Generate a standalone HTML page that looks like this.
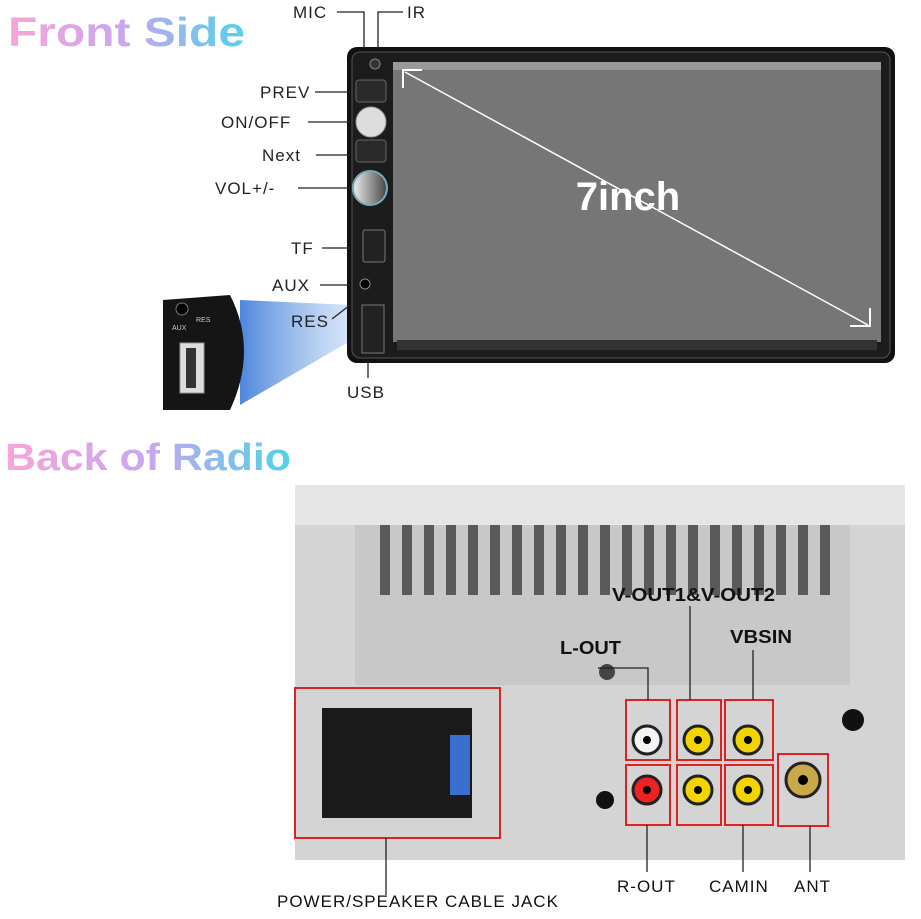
<!DOCTYPE html>
<html><head><meta charset="utf-8"><style>
html,body{margin:0;padding:0;background:#fff;}
svg text{font-family:"Liberation Sans",sans-serif;}
</style></head><body>
<svg width="921" height="914" viewBox="0 0 921 914" xmlns="http://www.w3.org/2000/svg">
<defs>
<linearGradient id="g1" x1="0" x2="1"><stop offset="0" stop-color="#f7a6d8"/><stop offset="0.5" stop-color="#c9a6f0"/><stop offset="1" stop-color="#4fd3e8"/></linearGradient>
<linearGradient id="cone" x1="0" x2="1"><stop offset="0" stop-color="#3a78d8" stop-opacity="0.9"/><stop offset="1" stop-color="#9cc0ee" stop-opacity="0.4"/></linearGradient>
<linearGradient id="knob"><stop offset="0" stop-color="#eee"/><stop offset="1" stop-color="#444"/></linearGradient>
</defs>
<text x="8" y="46" font-size="41" font-weight="bold" fill="url(#g1)" textLength="237" lengthAdjust="spacingAndGlyphs">Front Side</text>
<text x="5" y="470" font-size="38" font-weight="bold" fill="url(#g1)" textLength="286" lengthAdjust="spacingAndGlyphs">Back of Radio</text>

<!-- inset -->
<polygon points="240,300 352,305 352,340 240,405" fill="url(#cone)"/>
<path d="M163,300 L230,295 Q258,350 230,410 L163,410 Z" fill="#151515"/>
<circle cx="182" cy="309" r="6" fill="#000" stroke="#777"/>
<text x="172" y="330" font-size="7" fill="#ccc">AUX</text><text x="196" y="322" font-size="7" fill="#ccc">RES</text>
<rect x="180" y="343" width="24" height="50" fill="#ddd" stroke="#999"/>
<rect x="186" y="348" width="10" height="40" fill="#333"/>

<!-- front unit -->
<rect x="347" y="47" width="548" height="316" rx="10" fill="#111"/>
<rect x="352" y="52" width="538" height="306" rx="8" fill="#1c1c1c" stroke="#555"/>
<rect x="393" y="62" width="488" height="280" fill="#767676"/>
<rect x="393" y="62" width="488" height="8" fill="#999"/>
<rect x="397" y="340" width="480" height="10" fill="#333"/>
<line x1="405" y1="72" x2="868" y2="325" stroke="#fff" stroke-width="1.5"/>
<polyline points="403,88 403,70 422,70" fill="none" stroke="#fff" stroke-width="2"/>
<polyline points="850,326 870,326 870,308" fill="none" stroke="#fff" stroke-width="2"/>
<text x="628" y="210" font-size="40" font-weight="bold" fill="#fff" text-anchor="middle">7inch</text>
<circle cx="375" cy="64" r="5" fill="#333" stroke="#888"/>
<rect x="356" y="80" width="30" height="22" rx="3" fill="#2a2a2a" stroke="#666"/>
<circle cx="371" cy="122" r="15" fill="#ddd" stroke="#999"/>
<rect x="356" y="140" width="30" height="22" rx="3" fill="#2a2a2a" stroke="#666"/>
<circle cx="370" cy="188" r="17" fill="url(#knob)" stroke="#7ab" stroke-width="2"/>
<rect x="363" y="230" width="22" height="32" rx="2" fill="#222" stroke="#777"/>
<circle cx="365" cy="284" r="5" fill="#000" stroke="#888"/>
<rect x="362" y="305" width="22" height="48" fill="#222" stroke="#777"/>
<g font-size="17" fill="#222" letter-spacing="1">
<text x="293" y="18">MIC</text><text x="407" y="18">IR</text>
<text x="260" y="98">PREV</text><text x="221" y="128">ON/OFF</text>
<text x="262" y="161">Next</text><text x="215" y="194">VOL+/-</text>
<text x="291" y="254">TF</text><text x="272" y="291">AUX</text>
<text x="291" y="327">RES</text><text x="347" y="398">USB</text>
</g>
<g stroke="#222" stroke-width="1.3" fill="none">
<polyline points="337,12 364,12 364,48"/><polyline points="403,12 378,12 378,48"/>
<line x1="315" y1="92" x2="350" y2="92"/><line x1="308" y1="122" x2="350" y2="122"/>
<line x1="316" y1="155" x2="350" y2="155"/><line x1="298" y1="188" x2="350" y2="188"/>
<line x1="322" y1="248" x2="350" y2="248"/><line x1="320" y1="285" x2="350" y2="285"/>
<line x1="332" y1="319" x2="350" y2="305"/><line x1="368" y1="362" x2="368" y2="378"/>
</g>

<!-- back unit -->
<rect x="295" y="485" width="610" height="375" fill="#d4d4d4"/>
<rect x="295" y="485" width="610" height="40" fill="#e6e6e6"/>
<rect x="355" y="525" width="495" height="160" fill="#c8c8c8"/>
<g fill="#5a5a5a">
<rect x="380" y="525" width="10" height="70"/><rect x="402" y="525" width="10" height="70"/>
<rect x="424" y="525" width="10" height="70"/><rect x="446" y="525" width="10" height="70"/>
<rect x="468" y="525" width="10" height="70"/><rect x="490" y="525" width="10" height="70"/>
<rect x="512" y="525" width="10" height="70"/><rect x="534" y="525" width="10" height="70"/>
<rect x="556" y="525" width="10" height="70"/><rect x="578" y="525" width="10" height="70"/>
<rect x="600" y="525" width="10" height="70"/><rect x="622" y="525" width="10" height="70"/>
<rect x="644" y="525" width="10" height="70"/><rect x="666" y="525" width="10" height="70"/>
<rect x="688" y="525" width="10" height="70"/><rect x="710" y="525" width="10" height="70"/>
<rect x="732" y="525" width="10" height="70"/><rect x="754" y="525" width="10" height="70"/>
<rect x="776" y="525" width="10" height="70"/><rect x="798" y="525" width="10" height="70"/>
<rect x="820" y="525" width="10" height="70"/>
</g>
<rect x="295" y="688" width="205" height="150" fill="none" stroke="#d22" stroke-width="2"/>
<rect x="322" y="708" width="150" height="110" fill="#1a1a1a"/>
<rect x="450" y="735" width="20" height="60" fill="#3a6fd0"/>
<circle cx="607" cy="672" r="8" fill="#444"/>
<circle cx="605" cy="800" r="9" fill="#111"/>
<circle cx="853" cy="720" r="11" fill="#111"/>
<g fill="none" stroke="#d22" stroke-width="2">
<rect x="626" y="700" width="44" height="60"/><rect x="677" y="700" width="44" height="60"/>
<rect x="725" y="700" width="48" height="60"/><rect x="626" y="765" width="44" height="60"/>
<rect x="677" y="765" width="44" height="60"/><rect x="725" y="765" width="48" height="60"/>
<rect x="778" y="754" width="50" height="72"/>
</g>
<g stroke="#222" stroke-width="3">
<circle cx="647" cy="740" r="14" fill="#f3f3f3"/><circle cx="698" cy="740" r="14" fill="#f2d400"/>
<circle cx="748" cy="740" r="14" fill="#f2d400"/><circle cx="647" cy="790" r="14" fill="#e22"/>
<circle cx="698" cy="790" r="14" fill="#f2d400"/><circle cx="748" cy="790" r="14" fill="#f2d400"/>
<circle cx="803" cy="780" r="17" fill="#c9a84a"/>
</g>
<g fill="#000"><circle cx="647" cy="740" r="4"/><circle cx="698" cy="740" r="4"/><circle cx="748" cy="740" r="4"/><circle cx="647" cy="790" r="4"/><circle cx="698" cy="790" r="4"/><circle cx="748" cy="790" r="4"/><circle cx="803" cy="780" r="5"/></g>
<g fill="#111" font-size="18" font-family="Liberation Mono,monospace" font-weight="bold">
<text x="612" y="601" textLength="163" lengthAdjust="spacingAndGlyphs">V-OUT1&amp;V-OUT2</text>
<text x="730" y="643" textLength="62" lengthAdjust="spacingAndGlyphs">VBSIN</text>
<text x="560" y="654" textLength="61" lengthAdjust="spacingAndGlyphs">L-OUT</text>
</g>
<g font-size="17" fill="#111" letter-spacing="1">
<text x="277" y="907">POWER/SPEAKER CABLE JACK</text>
<text x="617" y="892">R-OUT</text><text x="709" y="892">CAMIN</text><text x="794" y="892">ANT</text>
</g>
<g stroke="#222" stroke-width="1.3" fill="none">
<polyline points="598,668 648,668 648,700"/><line x1="690" y1="606" x2="690" y2="700"/>
<line x1="753" y1="650" x2="753" y2="700"/><line x1="386" y1="838" x2="386" y2="895"/>
<line x1="647" y1="825" x2="647" y2="872"/><line x1="743" y1="825" x2="743" y2="872"/>
<line x1="810" y1="826" x2="810" y2="872"/>
</g>
</svg>
</body></html>
